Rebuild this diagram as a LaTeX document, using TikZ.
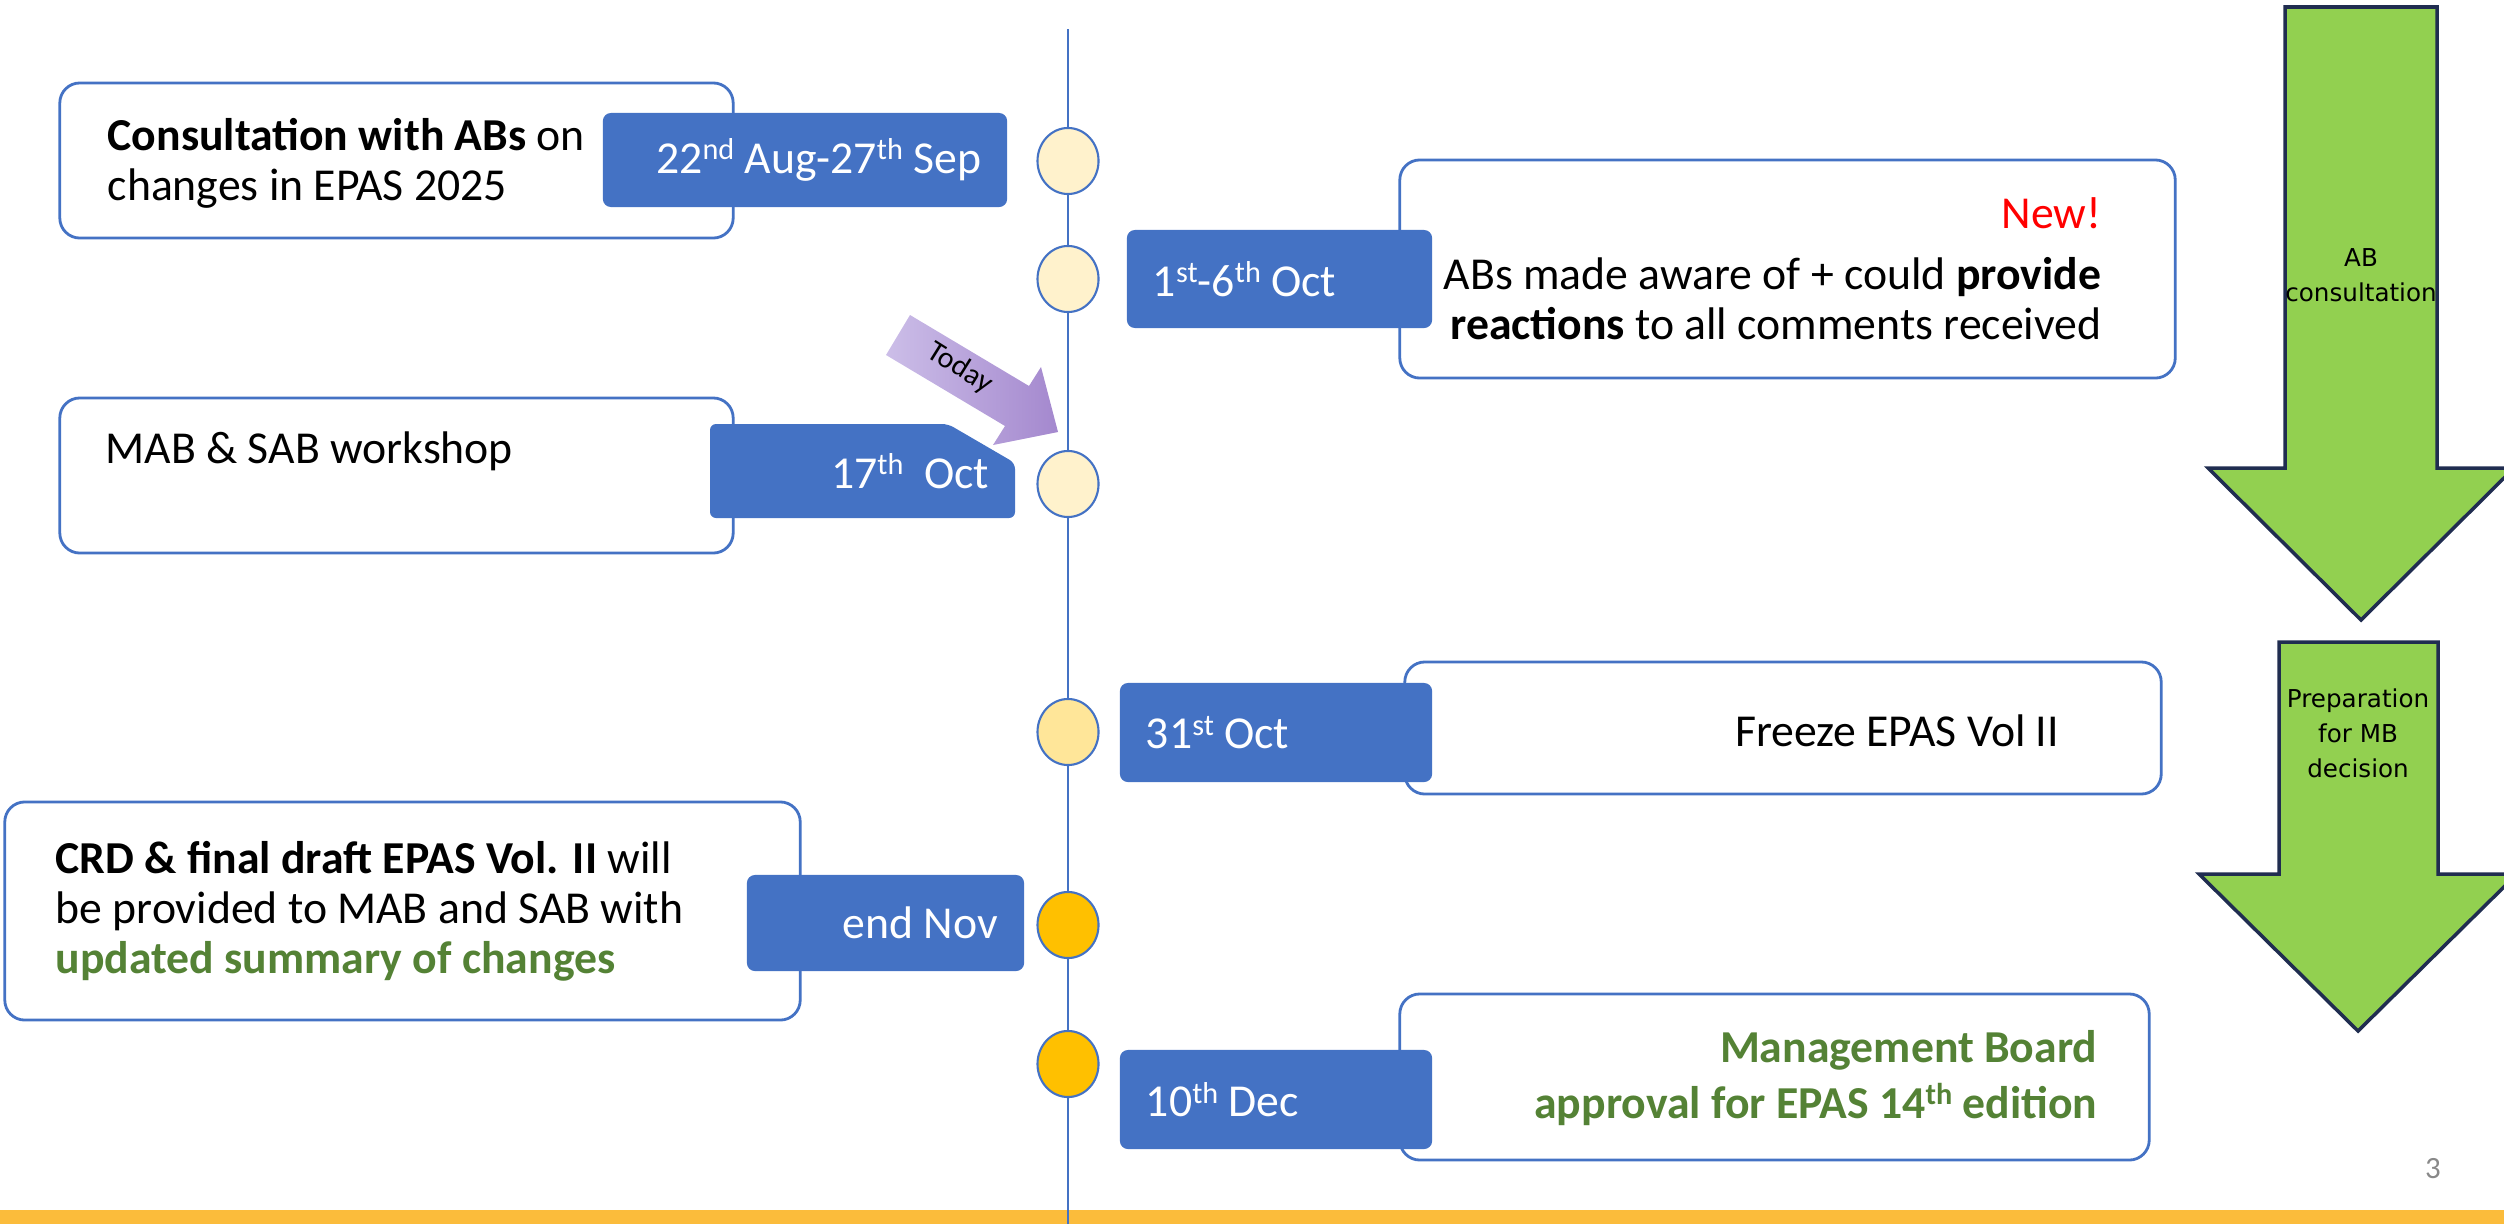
\documentclass[tikz,border=0pt]{standalone}
\usepackage{fontspec}
\setmainfont{Carlito}
\newfontfamily\arrowfont{DejaVu Sans}
\usepackage{xcolor}
\usetikzlibrary{shapes.geometric}
\definecolor{tlblue}{RGB}{68,114,196}
\definecolor{creamA}{RGB}{255,242,204}
\definecolor{creamB}{RGB}{255,230,153}
\definecolor{gold}{RGB}{255,192,0}
\definecolor{arrowgreen}{RGB}{146,208,80}
\definecolor{arrowedge}{RGB}{32,45,80}
\definecolor{txtgreen}{RGB}{84,130,53}
\definecolor{barorange}{RGB}{251,188,59}
\definecolor{pagegray}{RGB}{137,137,137}
\definecolor{todayA}{RGB}{204,190,232}
\definecolor{todayB}{RGB}{164,136,206}
\newcommand\mainsize{\fontsize{13}{14.2}\selectfont}
\newcommand\sups[1]{\raisebox{0.62ex}{\fontsize{8.6}{9}\selectfont #1}}

\begin{document}
\begin{tikzpicture}[x=0.01cm, y=-0.01cm, every node/.style={font=\mainsize}]
  \tikzset{
    dot/.style={ellipse, draw=tlblue, line width=0.6pt, minimum width=0.61cm, minimum height=0.66cm, inner sep=0pt},
    notebox/.style={draw=tlblue, line width=0.8pt, fill=white, rounded corners=0.2cm},
    datebox/.style={fill=tlblue, text=white, rounded corners=0.08cm, inner xsep=0.26cm, inner ysep=0pt},
    txt/.style={inner sep=0pt},
    bigarrow/.style={fill=arrowgreen, draw=arrowedge, line width=1pt},
    arrowtxt/.style={inner sep=0pt, align=center, font=\arrowfont\fontsize{7}{10}\selectfont}
  }
  \useasboundingbox (0,0) rectangle (2504,1224);

  % Footer bar and page number
  \fill[barorange] (0,1210) rectangle (2504,1224);
  \node[txt, anchor=base, text=pagegray, font=\fontsize{8.8}{10}\selectfont] (pageno) at (2433,1178) {3};

  % Timeline
  \coordinate (tTop) at (1068,29);
  \coordinate (tEnd) at (1068,1224);
  \draw[tlblue, line width=0.7pt] (tTop) -- (tEnd);

  \node[dot, fill=creamA] (cSep)    at (1068,161)  {};
  \node[dot, fill=creamA] (cOct)    at (1068,279)  {};
  \node[dot, fill=creamA] (cWork)   at (1068,484)  {};
  \node[dot, fill=creamB] (cFreeze) at (1068,732)  {};
  \node[dot, fill=gold]   (cNov)    at (1068,925)  {};
  \node[dot, fill=gold]   (cDec)    at (1068,1064) {};

  % Left column
  \node[notebox, minimum width=6.73cm, minimum height=1.55cm] (nSep)  at (396.5,160.5) {};
  \node[notebox, minimum width=6.73cm, minimum height=1.55cm] (nWork) at (396.5,475.5) {};
  \node[notebox, minimum width=7.95cm, minimum height=2.18cm] (nNov)  at (402.5,911)   {};

  \node[datebox, text width=3.52cm, align=flush right, minimum height=0.94cm] (dSep) at (805,160)
    {22\sups{nd} Aug-27\sups{th} Sep};
  \fill[tlblue, rounded corners=0.06cm] (710,424) -- (948,424) -- (1015,463) -- (1015,518) -- (710,518) -- cycle;
  \node[datebox, fill=none, text width=2.53cm, align=flush right, minimum height=0.94cm] (dWork) at (862.5,471)
    {17\sups{th}\ \ Oct};
  \node[datebox, text width=2.25cm, align=flush right, minimum height=0.96cm] (dNov) at (885.5,923)
    {end Nov};

  \node[txt, anchor=west, align=left] (tSep) at (107,163)
    {\textbf{Consultation with ABs} on\\changes in EPAS 2025};
  \node[txt, anchor=base west] (tWork) at (105,463) {MAB \& SAB workshop};
  \node[txt, anchor=west, align=left] (tNov) at (55,911)
    {\textbf{CRD \& final draft EPAS Vol. II} will\\be provided to MAB and SAB with\\{\color{txtgreen}\textbf{updated summary of changes}}};

  % Right column
  \node[notebox, minimum width=7.75cm, minimum height=2.18cm] (nOct)    at (1787.5,269) {};
  \node[notebox, minimum width=7.56cm, minimum height=1.32cm] (nFreeze) at (1783,728)   {};
  \node[notebox, minimum width=7.49cm, minimum height=1.66cm] (nDec)    at (1774.5,1077) {};

  \node[datebox, text width=2.53cm, align=flush left, minimum height=0.98cm] (dOct) at (1279.5,279)
    {1\sups{st}-6\sups{th} Oct};
  \node[datebox, text width=2.60cm, align=flush left, minimum height=0.99cm] (dFreeze) at (1276,732.5)
    {31\sups{st} Oct};
  \node[datebox, text width=2.60cm, align=flush left, minimum height=0.99cm] (dDec) at (1276,1099.5)
    {10\sups{th} Dec};

  \node[txt, anchor=base east, text=red] (tNew) at (2102,228) {New!};
  \node[txt, anchor=east, align=right] (tOct) at (2102,299)
    {ABs made aware of + could \textbf{provide}\\\textbf{reactions} to all comments received};
  \node[txt, anchor=base] (tFreeze) at (1897,746) {Freeze EPAS Vol II};
  \node[txt, anchor=east, align=right, text=txtgreen, font=\bfseries\fontsize{13}{15.9}\selectfont] (tDec) at (2098,1078)
    {Management Board\\approval for EPAS 14\sups{th} edition};

  % Phase arrows
  \draw[bigarrow] (2285,7) -- (2437,7) -- (2437,468) -- (2514,468) -- (2361,620) -- (2208,468) -- (2285,468) -- cycle;
  \node[arrowtxt] (aCons) at (2361,275) {AB\\consultation};
  \draw[bigarrow] (2279,642) -- (2438,642) -- (2438,874) -- (2517,874) -- (2358,1031) -- (2199,874) -- (2279,874) -- cycle;
  \node[arrowtxt] (aPrep) at (2358,733) {Preparation\\for MB\\decision};

  % Today marker
  \shade[left color=todayA, right color=todayB] (910,315) -- (1029,386) -- (1041,367) -- (1058,432)
    -- (993,445) -- (1005,426) -- (886,355) -- cycle;
  \node[txt, rotate=-32, font=\fontsize{8.5}{9}\selectfont] (tToday) at (960,368) {Today};
\end{tikzpicture}
\end{document}
